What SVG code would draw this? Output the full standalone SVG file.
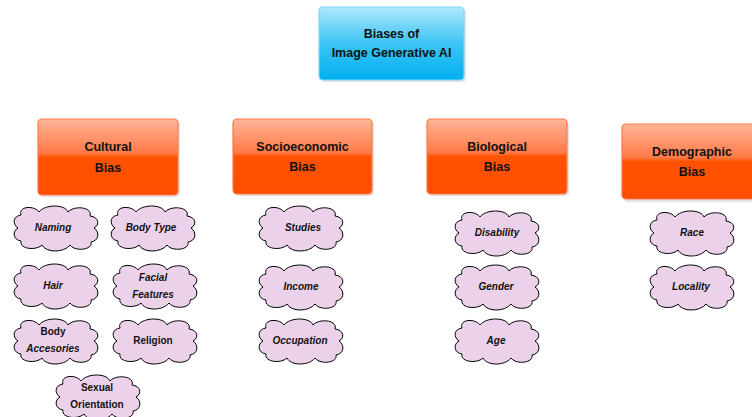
<svg xmlns="http://www.w3.org/2000/svg" xmlns:xlink="http://www.w3.org/1999/xlink" width="752" height="417" viewBox="0 0 752 417">
<style>
.hd{font-family:"Liberation Sans",Arial,sans-serif;font-weight:bold;font-size:12.5px;fill:#111;text-anchor:middle}
.cl{font-family:"Liberation Sans",Arial,sans-serif;font-weight:bold;font-size:10px;fill:#111;text-anchor:middle}
.it{font-style:italic}
.ob{fill:url(#og);stroke:#ff7a4a;stroke-width:1.2}
.bb{fill:url(#bg);stroke:#7fd6f8;stroke-width:1.2}
.sh{fill:#e4e4e4}
</style>
<defs>
<linearGradient id="og" x1="0" y1="0" x2="0" y2="1">
<stop offset="0" stop-color="#ffb59a"/>
<stop offset="0.45" stop-color="#ff7a45"/>
<stop offset="0.5" stop-color="#ff5200"/>
<stop offset="1" stop-color="#ff4e00"/>
</linearGradient>
<linearGradient id="bg" x1="0" y1="0" x2="0" y2="1">
<stop offset="0" stop-color="#b0e8fc"/>
<stop offset="0.5" stop-color="#3cc4f4"/>
<stop offset="1" stop-color="#00b0f0"/>
</linearGradient>
<path id="cloud" d="M -35,-13 C -38,-22 -22,-23 -17,-16 C -11,-24 9,-24 12,-16 C 18,-23 37,-21 34,-12 C 43,-11 44,-3 38,0 C 44,4 43,13 35,14 C 37,22 19,24 14,17 C 8,25 -10,25 -14,17 C -20,23 -37,21 -35,13 C -43,12 -44,3 -38,0 C -44,-4 -43,-12 -35,-13 Z" fill="#ebd2ea" stroke="#000" stroke-width="1"/>
</defs>

<g id="connectors"></g>

<g id="root">
<rect class="sh" x="321" y="9" width="145" height="73" rx="4"/>
<rect class="bb" x="319" y="7" width="145" height="73" rx="4"/>
<text class="hd" x="391.5" y="38">Biases of</text>
<text class="hd" x="391.5" y="57">Image Generative AI</text>
</g>

<g id="cultural">
<rect class="sh" x="40" y="121" width="140" height="76" rx="4"/>
<rect class="ob" x="38" y="119" width="140" height="76" rx="4"/>
<text class="hd" x="108" y="151">Cultural</text>
<text class="hd" x="108" y="172">Bias</text>
</g>
<g id="socioeconomic">
<rect class="sh" x="235" y="121" width="139" height="75" rx="4"/>
<rect class="ob" x="233" y="119" width="139" height="75" rx="4"/>
<text class="hd" x="302.5" y="151">Socioeconomic</text>
<text class="hd" x="302.5" y="171">Bias</text>
</g>
<g id="biological">
<rect class="sh" x="429" y="121" width="140" height="75" rx="4"/>
<rect class="ob" x="427" y="119" width="140" height="75" rx="4"/>
<text class="hd" x="497" y="151">Biological</text>
<text class="hd" x="497" y="171">Bias</text>
</g>
<g id="demographic">
<rect class="sh" x="624" y="126" width="140" height="76" rx="4"/>
<rect class="ob" x="622" y="124" width="140" height="75" rx="4"/>
<text class="hd" x="692" y="156">Demographic</text>
<text class="hd" x="692" y="176">Bias</text>
</g>

<g id="naming"><use xlink:href="#cloud" x="56" y="228"/><text class="cl it" x="53" y="231">Naming</text></g>
<g id="bodytype"><use xlink:href="#cloud" x="153" y="228"/><text class="cl it" x="151" y="231">Body Type</text></g>
<g id="hair"><use xlink:href="#cloud" x="56" y="286"/><text class="cl it" x="53" y="289">Hair</text></g>
<g id="facial"><use xlink:href="#cloud" x="155" y="286"/><text class="cl it" x="153" y="281">Facial</text><text class="cl it" x="153" y="298">Features</text></g>
<g id="accesories"><use xlink:href="#cloud" x="56" y="341"/><text class="cl" x="53" y="335">Body</text><text class="cl it" x="53" y="352">Accesories</text></g>
<g id="religion"><use xlink:href="#cloud" x="155" y="341"/><text class="cl" x="153" y="344">Religion</text></g>
<g id="sexual"><use xlink:href="#cloud" x="98" y="397"/><text class="cl" x="97" y="391">Sexual</text><text class="cl" x="97" y="408">Orientation</text></g>

<g id="studies"><use xlink:href="#cloud" x="301" y="228"/><text class="cl it" x="303" y="231">Studies</text></g>
<g id="income"><use xlink:href="#cloud" x="301" y="287"/><text class="cl it" x="301" y="290">Income</text></g>
<g id="occupation"><use xlink:href="#cloud" x="301" y="341"/><text class="cl it" x="300" y="344">Occupation</text></g>

<g id="disability"><use xlink:href="#cloud" x="497" y="233"/><text class="cl it" x="497" y="236">Disability</text></g>
<g id="gender"><use xlink:href="#cloud" x="497" y="287"/><text class="cl it" x="496" y="290">Gender</text></g>
<g id="age"><use xlink:href="#cloud" x="497" y="341"/><text class="cl it" x="496" y="344">Age</text></g>

<g id="race"><use xlink:href="#cloud" x="692" y="233"/><text class="cl it" x="692" y="236">Race</text></g>
<g id="locality"><use xlink:href="#cloud" x="692" y="287"/><text class="cl it" x="691" y="290">Locality</text></g>
</svg>
